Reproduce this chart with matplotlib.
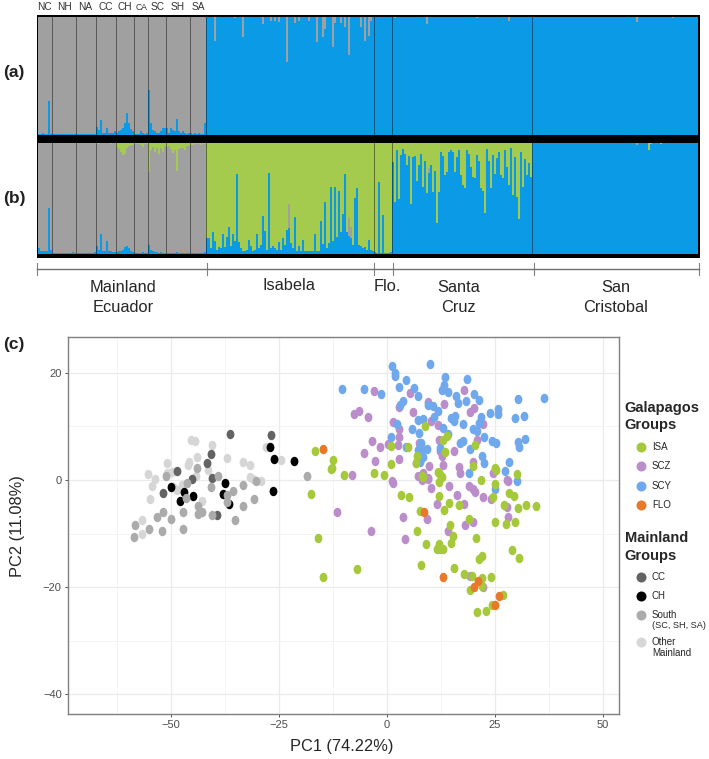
import numpy as np
import matplotlib
matplotlib.use('Agg')
import matplotlib.pyplot as plt
from matplotlib.patches import Rectangle
from matplotlib.path import Path
from matplotlib.transforms import Affine2D

plt.rcParams['font.family'] = ['Liberation Sans', 'DejaVu Sans']

W, H = 709, 759

# ---- structure plots: one entry per individual ----
pop_names = ['NC', 'NH', 'NA', 'CC', 'CH', 'CA', 'SC', 'SH', 'SA']
pop_sizes = [7, 12, 10, 10, 9, 7, 9, 12, 8]
island_sizes = [84, 9, 70, 83]

a_blue_main = [
    .01, .01, .02, .01, .01, .29, .01,
    .01, .005, .005, .005, .005, .005, .005, .005, .005, .005, .005, .005,
    .005, .005, .005, .005, .005, .005, .005, .005, .005, .005,
    .07, .04, .13, .02, .02, .06, .02, .02, .02, .03,
    .02, .03, .04, .06, .10, .19, .10, .05, .03,
    .01, .01, .01, .03, .02, .01, .02,
    .38, .10, .04, .03, .02, .02, .03, .06, .06,
    .06, .02, .06, .04, .03, .14, .03, .02, .03, .02, .01, .02,
    .02, .01, .02, .01, .02, .01, .01, .10]

a_gray_idx = [88, 98, 102, 112, 116, 118, 120, 124, 128, 130, 135, 139, 142, 143, 147,
              148, 151, 153, 155, 161, 163, 165, 166, 178, 194, 219, 235, 299, 317]
a_gray_val = [.20, .01, .165, .06, .03, .03, .04, .38, .05, .03, .03, .21, .17, .10, .25,
              .05, .05, .08, .32, .08, .20, .16, .03, .01, .06, .01, .03, .04, .01]

b_blue_main = [
    .05, .03, .03, .03, .03, .41, .04,
    .01, .01, .01, .01, .01, .01, .01, .01, .01, .01, .02, .01,
    .01, .01, .01, .01, .01, .01, .01, .01, .01, .02,
    .07, .04, .18, .03, .03, .12, .03, .03, .02, .02,
    .02, .03, .03, .04, .06, .07, .05, .03, .02,
    .01, .01, .01, .01, .02, .01, .01,
    .08, .04, .03, .02, .02, .01, .02, .01, .01,
    .01, .01, .01, .01, .01, .02, .01, .01, .01, .01, .01, .01,
    .01, .01, .01, .01, .01, .01, .01, .02]

b_green_main = [
    0, 0, 0, 0, 0, 0, 0,
    0, 0, 0, 0, 0, 0, 0, 0, 0, 0, 0, 0,
    0, 0, 0, 0, 0, 0, 0, 0, 0, 0,
    .01, .01, .005, .005, .005, .005, .005, .01, .005, .005,
    .04, .06, .08, .11, .10, .05, .03, .02, .02,
    .01, .01, .01, .02, .04, .01, .01,
    .26, .07, .04, .08, .05, .10, .05, .08, .03,
    .04, .03, .06, .09, .07, .25, .06, .05, .05, .07, .03, .03,
    .02, .02, .01, .01, .01, .02, .01, .01]

b_blue_isa = [
    .14, .14, .05, .20, .12, .04, .06, .05, .18, .06, .15, .24, .07, .18, .12, .72,
    .11, .05, .03, .03, .04, .13, .07, .03, .04, .18, .05, .08, .34, .21, .04, .73,
    .05, .07, .05, .04, .11, .04, .14, .08, .22, .23, .10, .05, .33, .03, .07, .03,
    .13, .03, .03, .03, .03, .03, .18, .03, .03, .30, .09, .47, .05, .10, .60, .12,
    .60, .15, .57, .20, .36, .72, .20, .16, .14, .08, .50, .59, .08, .07, .05, .06,
    .04, .13, .04, .03]

b_blue_flo = [.02, .01, .65, .01, .35, .01, .01, .01, .02]

b_green_scz = [
    .17, .53, .07, .51, .11, .06, .10, .20, .12, .55,
    .13, .12, .34, .20, .10, .40, .16, .45, .23, .20,
    .44, .25, .72, .44, .08, .12, .29, .26, .08, .07,
    .08, .26, .13, .07, .29, .38, .41, .07, .10, .22,
    .31, .32, .11, .16, .41, .43, .63, .06, .16, .41,
    .11, .28, .14, .08, .29, .32, .07, .22, .38, .05,
    .47, .13, .49, .69, .08, .40, .15, .29, .18, .31]

b_green_idx = [256, 270, 291, 305, 306, 311]
b_green_val = [.005, .005, .005, .07, .01, .01]

b_gray_idx = [125, 155, 156, 195, 299]
b_gray_val = [.22, .16, .10, .04, .02]

# ---- PCA points ----
ch_x = [-49.9, -46.8, -44.7, -47.7, -37.3, -37.8, -36.4, -27.0, -26.0, -21.4, -26.2]
ch_y = [-1.4, -2.3, -2.9, -4.0, -0.6, -2.6, -4.4, 6.1, 3.9, 3.5, -2.1]

cc_x = [-36.2, -26.8, -40.6, -41.5, -48.4, -45.0, -40.5, -51.7, -39.3]
cc_y = [8.66, 8.5, 4.9, 3.2, 1.7, 0.25, 0.3, -2.4, -6.5]

south_x = [-18.35, -30.15, -33.3, -38.9, -43.8, -51.0, -46.2, -40.7, -35.5, -37.0, -37.0, -46.3, -30.7, -33.3,
           -43.7, -43.6, -42.6, -40.5, -47.0, -35.1, -51.7, -53.1, -49.9, -58.3, -58.5, -55.0, -51.9, -47.0]
south_y = [0.8, -0.25, -0.9, 0.8, 2.3, 0.7, -0.6, -1.25, -2.1, -2.8, -4.2, -3.4, -3.6, -4.8,
           -4.9, -6.4, -5.9, -6.5, -6.0, -7.4, -6.0, -7.0, -7.2, -8.5, -10.7, -9.2, -9.5, -9.2]

other_x = [-45.2, -44.4, -40.5, -43.9, -45.7, -46.0, -50.75, -36.9, -33.3, -31.5, -41.4, -44.0, -55.15, -53.6, -54.2,
           -50.9, -49.6, -31.7, -30.85, -29.15, -24.45, -27.8, -54.7, -56.5, -56.5, -49.4, -48.4, -47.4, -42.6]
other_y = [7.4, 7.35, 6.6, 4.3, 3.4, 2.8, 3.2, 4.1, 3.4, 2.8, 1.9, 0.75, 1.1, 0.2, -1.05,
           1.25, 1.56, 0.5, 0.1, -0.25, 3.7, 6.1, -3.55, -7.5, -10.0, -1.4, -1.9, -0.9, -3.9]

scy_x = [-10.2, -5.2, -1.2, 1.2, 2.0, 2.05, 4.5, 3.0, 6.4, 7.4, 10.15, 13.6, 18.55, 13.4, 12.8, 14.15, 16.2, 20.3,
         21.5, 18.5, 16.55, 3.75, 3.2, 9.5, 10.7, 12.0, 11.0, 14.9, 15.9, 15.6, 17.6, 24.0, 25.7, 25.9, 30.4, 36.5,
         29.8, 31.8, 2.4, 8.45, 7.2, 5.8, 7.6, 13.0, 14.24, 21.9, 21.5, 20.1, 20.9, 22.6, 24.4, 25.35, 17.6, 17.1,
         19.3, 22.0, 22.5, 28.4, 27.5, 32.1, 30.4, 30.75, 1.05, 4.44, 8.0, 8.3, 9.3, 7.37, 8.5, 7.76, 12.4, 19.2,
         30.3, 25.2]
scy_y = [17.07, 17.0, 16.1, 21.25, 19.94, 19.44, 18.63, 17.45, 17.26, 15.76, 21.6, 19.25, 18.94, 17.76, 16.82, 16.39,
         15.76, 16.08, 14.9, 14.83, 14.33, 14.77, 14.0, 14.0, 13.9, 12.84, 11.7, 11.6, 12.03, 11.1, 10.53, 12.6, 13.2,
         12.27, 15.08, 15.4, 11.65, 11.9, 10.4, 11.4, 11.2, 9.53, 8.85, 9.66, 8.6, 11.84, 10.7, 9.47, 9.16, 7.98, 7.35,
         6.9, 7.35, 6.85, 5.86, 4.5, 3.24, 3.43, 1.68, 7.7, 7.17, 6.17, 8.0, 6.23, 6.85, 5.6, 5.86, 5.6, 4.36, 3.43,
         6.04, 1.3, -0.2, -1.74]

scz_x = [-3.0, 5.44, 17.94, -7.5, -6.36, -4.28, 3.0, 6.06, 9.7, 13.24, 19.33, 20.33, 1.6, 2.9, 10.3, 11.85, 22.4,
         -3.43, -1.42, -5.13, 2.9, 2.6, 0.43, 7.6, 12.16, 20.9, 15.7, -2.66, 2.82, 12.4, 12.8, 6.83, 9.9, 13.16,
         16.8, 16.94, 20.1, 24.6, 28.0, -8.06, 7.37, 8.53, 9.7, 1.35, 1.5, 8.16, 9.7, 10.25, 14.57, 16.4, 11.64,
         18.0, 19.1, 20.1, 20.5, 22.36, 24.3, 28.15, 28.0, 28.2, 20.1, 18.2, 14.26, 9.4, 3.9, -11.36, -3.56, 4.3,
         19.35, 22.28]
scz_y = [16.57, 16.26, 16.76, 12.27, 12.84, 11.7, 13.7, 12.65, 14.64, 14.27, 12.77, 13.5, 10.8, 9.53, 11.1, 10.28,
         10.47, 7.3, 6.1, 5.1, 7.98, 6.54, 6.73, 7.0, 7.48, 7.48, 5.42, 3.6, 3.93, 5.42, 4.5, 3.12, 2.62, 2.8, 2.5,
         1.37, 3.37, 1.25, 0.0, 0.94, 0.75, 1.25, 0.31, -0.1, -0.5, 0.0, 0.13, -1.43, -1.06, -2.8, -4.5, -4.55, -1.12,
         -1.74, -2.18, -3.18, -3.5, -0.12, -5.0, -6.85, -7.8, -8.35, -9.53, -7.3, -7.0, -5.92, -9.6, -11.0, -17.9,
         -20.06]

isa_x = [-17.5, -12.75, -9.9, -3.0, -0.56, 3.38, 5.15, 8.4, 12.18, 12.8, 12.25, 12.18, 14.57, 16.73, 13.26, 7.8, 19.2,
         14.72, 15.42, 7.16, 9.24, 14.88, 20.74, 21.9, 25.06, 24.75, 27.15, 28.38, 29.54, 30.39, 32.24, 34.63, 25.06,
         27.6, 29.77, 30.15, 25.3, -15.83, -6.88, -14.6, 8.0, 12.25, 11.64, 12.4, 13.18, 15.65, 18.0, 19.74, 22.05,
         24.2, 22.2, 19.35, 21.5, 22.13, 29.0, 30.6, 27.07, 24.37, 21.05, 23.06, 8.92, 13.93, 13.0, 20.5, 0.97, 5.06,
         13.55, 7.0, 6.9, 0.97, 20.1, 25.12, 12.0, 12.6, 8.3, -16.6, -12.33, -12.7]
isa_y = [-2.55, 2.0, 1.0, 1.25, 0.94, -2.87, -3.24, 0.62, 1.37, 0.62, -0.44, -3.0, -4.24, -4.67, -5.6, -5.73, -7.2,
         -8.5, -10.47, -9.6, -12.0, -11.84, -10.84, 0.0, -0.75, -3.24, -4.73, -2.37, -2.93, -5.3, -4.6, -4.92, -7.85,
         -8.3, -7.85, 1.06, 1.87, -10.78, -16.7, -18.07, -15.95, -11.96, -12.83, -12.9, -12.83, -16.5, -17.5, -17.94,
         -18.3, -18.07, -19.75, -20.56, -14.76, -14.14, -13.15, -14.64, -21.5, -23.4, -24.73, -24.55, 10.03, 8.2, 7.48,
         6.6, 6.36, 6.23, 5.17, 4.55, 3.12, 3.05, 2.68, 2.18, 1.56, 0.75, 0.75, 5.42, 3.74, 2.3]

flo_x = [-14.8, 8.6, 13.18, 21.28, 20.2, 26.14, 25.0]
flo_y = [5.86, -6.04, -18.2, -18.8, -20.06, -21.74, -23.3]

x_ticks = [-50, -25, 0, 25, 50]
y_ticks = [-40, -20, 0, 20]
x_minor = [-62.5, -37.5, -12.5, 12.5, 37.5]
y_minor = [-30, -10, 10]

BLUE = '#0a9ae6'
GRAY = '#a0a0a0'
GREEN = '#a5cb4e'
ISA_C = '#a5c93a'
SCZ_C = '#bb8ecb'
SCY_C = '#6fa8ec'
FLO_C = '#e8792b'
CC_C = '#636363'
CH_C = '#000000'
SOUTH_C = '#ababab'
OTHER_C = '#d6d6d6'
TXT = '#262626'


def px_axes(fig, left, top, right, bottom, **kw):
    """Axes placed with reference picture pixels"""
    return fig.add_axes([left / W, 1 - bottom / H, (right - left) / W, (bottom - top) / H], **kw)


def sparse(n, idx, val):
    out = np.zeros(n)
    out[idx] = val
    return out


def structure_panel(ax, blue, gray, green, breaks):
    n = len(blue)
    x = np.arange(n)
    ax.bar(x, blue, width=1, align='edge', color=BLUE, linewidth=0, antialiased=False)
    ax.bar(x, gray, width=1, align='edge', bottom=blue, color=GRAY, linewidth=0, antialiased=False)
    ax.bar(x, green, width=1, align='edge', bottom=blue + gray, color=GREEN, linewidth=0, antialiased=False)
    for b in breaks:
        ax.axvline(b, color='black', alpha=0.45, lw=0.7)
    ax.set_xlim(0, n)
    ax.set_ylim(0, 1)
    ax.axis('off')


fig = plt.figure(figsize=(W / 100, H / 100), dpi=100, facecolor='white')

# overlay in pixel coordinates for the frame, labels and the legend
over = fig.add_axes([0, 0, 1, 1], zorder=10)
over.set_xlim(0, W)
over.set_ylim(H, 0)
over.axis('off')

fig.add_artist(Rectangle((36.7, 14.5), 700 - 36.7, 257.5 - 14.5, color='black', lw=0,
                         transform=over.transData, zorder=-1))

sizes = pop_sizes + island_sizes
breaks = np.cumsum(sizes)[:-1]
n_total = sum(sizes)

# panel (a)
gray_a_sparse = sparse(n_total, a_gray_idx, a_gray_val)
a_main = np.array(a_blue_main)
blue_a = 1 - gray_a_sparse
blue_a[:len(a_main)] = a_main
gray_a = 1 - blue_a
ax_a = px_axes(fig, 38, 17.3, 698, 135)
structure_panel(ax_a, blue_a, gray_a, np.zeros(n_total), breaks)

# panel (b)
n_main = len(b_blue_main)
gray_b_sparse = sparse(n_total, b_gray_idx, b_gray_val)
green_b = sparse(n_total, b_green_idx, b_green_val)
green_b[:n_main] = b_green_main
green_b[n_main + 84 + 9:n_main + 84 + 9 + 70] = b_green_scz
blue_b = np.zeros(n_total)
blue_b[:n_main] = b_blue_main
blue_b[n_main:n_main + 84] = b_blue_isa
blue_b[n_main + 84:n_main + 84 + 9] = b_blue_flo
blue_b[n_main + 84 + 9:] = 1 - green_b[n_main + 84 + 9:] - gray_b_sparse[n_main + 84 + 9:]
gray_b = 1 - blue_b - green_b
gray_b[n_main:] = gray_b_sparse[n_main:]
green_b[n_main:n_main + 84 + 9] = 1 - blue_b[n_main:n_main + 84 + 9] - gray_b[n_main:n_main + 84 + 9]
ax_b = px_axes(fig, 38, 142.7, 698, 254)
structure_panel(ax_b, blue_b, gray_b, green_b, breaks)

# population labels over the top
top_x = [44.7, 64.3, 85.3, 106, 124.7, 141.7, 158, 177.3, 198]
for name, tx in zip(pop_names, top_x):
    over.text(tx, 7.5, name, ha='center', va='center', fontsize=6.2 if name == 'CA' else 7.3, color='#333333')

for label, ly in zip(['(a)', '(b)', '(c)'], [73, 198, 345]):
    over.text(3, ly, label, ha='left', va='center', fontsize=12.5, fontweight='bold', color='#222222')

# bracket under panel (b)
for bx in [37.3, 207, 373.7, 393.3, 533.7, 699.3]:
    over.plot([bx, bx], [262.7, 275], color='#808080', lw=0.8)
over.plot([37.3, 699.3], [269, 269], color='#707070', lw=1.0)

for txt, tx, ty in [('Mainland', 123, 288), ('Ecuador', 123, 308), ('Isabela', 289, 285.7), ('Flo.', 387.3, 286.7),
                    ('Santa', 459, 288), ('Cruz', 459, 308), ('San', 615.7, 288), ('Cristobal', 615.7, 308)]:
    over.text(tx, ty, txt, ha='center', va='center', fontsize=11.8, color=TXT)

# panel (c)
ax = px_axes(fig, 67.5, 337, 619.3, 714.3)
oval = Path.unit_circle().transformed(Affine2D().scale(0.83, 1.0))
for xs, ys, col in [(other_x, other_y, OTHER_C), (cc_x, cc_y, CC_C), (ch_x, ch_y, CH_C), (south_x, south_y, SOUTH_C),
                    (scz_x, scz_y, SCZ_C), (scy_x, scy_y, SCY_C), (isa_x, isa_y, ISA_C), (flo_x, flo_y, FLO_C)]:
    ax.scatter(xs, ys, s=46, marker=oval, color=col, linewidths=0, zorder=3)

ax.set_xlim((67.5 - 386.5) / 4.32, (619.3 - 386.5) / 4.32)
ax.set_ylim((480 - 714.3) / 5.35, (480 - 337) / 5.35)
ax.set_xticks(x_ticks)
ax.set_xticklabels([str(t).replace('-', '\u2212') for t in x_ticks])
ax.set_yticks(y_ticks)
ax.set_yticklabels([str(t).replace('-', '\u2212') for t in y_ticks])
ax.set_xticks(x_minor, minor=True)
ax.set_yticks(y_minor, minor=True)
ax.grid(which='major', color='#ebebeb', lw=0.9, zorder=0)
ax.grid(which='minor', color='#f2f2f2', lw=0.6, zorder=0)
ax.set_axisbelow(True)
ax.tick_params(which='minor', length=0)
ax.tick_params(which='major', length=2.2, width=0.7, color='#555555', labelcolor='#4d4d4d', labelsize=8, pad=2)
for s in ax.spines.values():
    s.set_color('#7f7f7f')
    s.set_linewidth(1.0)

over.text(341.7, 747, 'PC1 (74.22%)', ha='center', va='center', fontsize=11.8, color=TXT)
over.text(18, 526, 'PC2 (11.08%)', ha='center', va='center', rotation=90, fontsize=11.8, color=TXT)

# legend
over.text(624.5, 408, 'Galapagos', ha='left', va='center', fontsize=10.5, fontweight='bold', color=TXT)
over.text(624.5, 425, 'Groups', ha='left', va='center', fontsize=10.5, fontweight='bold', color=TXT)
over.text(624.5, 538, 'Mainland', ha='left', va='center', fontsize=10.5, fontweight='bold', color=TXT)
over.text(624.5, 555.7, 'Groups', ha='left', va='center', fontsize=10.5, fontweight='bold', color=TXT)

for name, col, ly in [('ISA', ISA_C, 446.7), ('SCZ', SCZ_C, 466), ('SCY', SCY_C, 485.7), ('FLO', FLO_C, 505.3),
                      ('CC', CC_C, 577.3), ('CH', CH_C, 596), ('South', SOUTH_C, 615.3)]:
    over.scatter([641], [ly], s=52, color=col, linewidths=0)
    over.text(652, ly, name, ha='left', va='center', fontsize=7, color=TXT)
over.scatter([641], [642], s=52, color=OTHER_C, linewidths=0)
over.text(652, 625.7, '(SC, SH, SA)', ha='left', va='center', fontsize=6.6, color=TXT)
over.text(652, 642, 'Other', ha='left', va='center', fontsize=7, color=TXT)
over.text(652, 652.5, 'Mainland', ha='left', va='center', fontsize=7, color=TXT)

fig.savefig('out.png', dpi=100)
